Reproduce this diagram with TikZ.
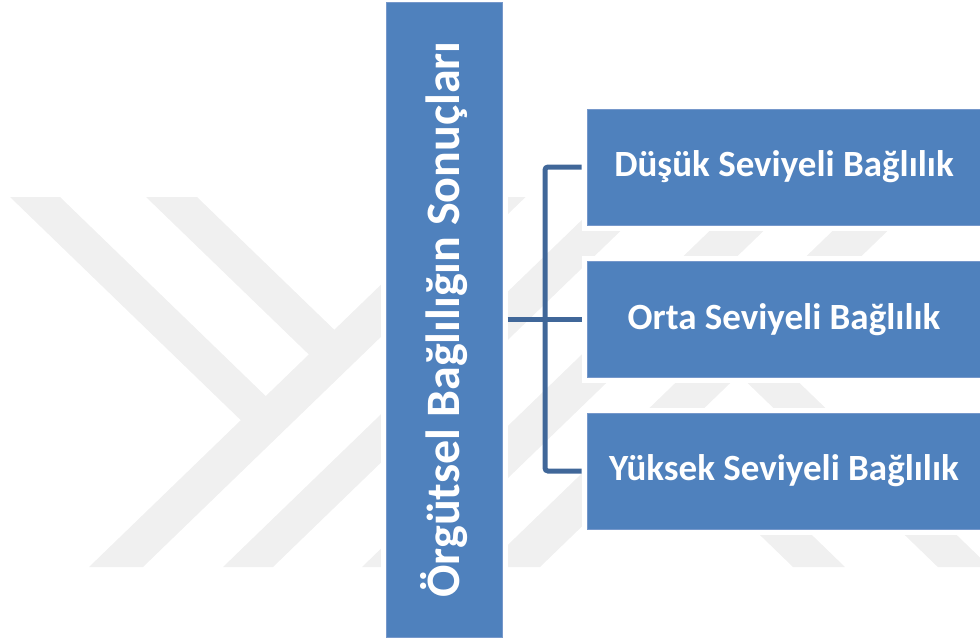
\documentclass[tikz,border=0pt]{standalone}
\usepackage{fontspec}
\setmainfont{Carlito}
\usetikzlibrary{backgrounds}
\definecolor{boxblue}{RGB}{79,129,189}
\definecolor{boxedge}{RGB}{118,152,203}
\definecolor{linkblue}{RGB}{64,103,153}
\definecolor{wmgray}{RGB}{240,240,240}
\begin{document}
\begin{tikzpicture}[x=1pt,y=-1pt,
  rootbox/.style={rectangle, fill=boxblue, draw=boxedge, line width=1pt,
    minimum width=116pt, minimum height=635pt, inner sep=0pt,
    text=white, font=\bfseries\fontsize{48}{54}\selectfont},
  levelbox/.style={rectangle, fill=boxblue, draw=boxedge, line width=1pt,
    minimum width=394pt, minimum height=116pt, inner sep=0pt,
    text=white, font=\bfseries\fontsize{37}{44}\selectfont},
  conn/.style={draw=linkblue, line width=5pt, rounded corners=3pt,
    shorten <=5pt, shorten >=5pt},
  halo/.style={draw=white, line width=10pt},
  wm/.style={fill=wmgray}]
\useasboundingbox (0,0) rectangle (980,641);

% boxes
\node[rootbox] (root) at (444,319.5)
  {\rotatebox{90}{Örgütsel Bağlılığın Sonuçları}};
\node[levelbox] (b1) at (784,167)   {Düşük Seviyeli Bağlılık};
\node[levelbox] (b2) at (784,319.5) {Orta Seviyeli Bağlılık};
\node[levelbox] (b3) at (784,471)   {Yüksek Seviyeli Bağlılık};

% bracket connector
\coordinate (spine) at (545,319.5);
\draw[conn] (root.east) -- (b2.west);
\draw[conn] (b1.west) -- (b1.west -| spine) -- (b3.west -| spine) -- (b3.west);

% faint logo stripes behind, with white margins round the boxes
\begin{pgfonlayer}{background}
  \fill[wm] (89,567) -- (143,567) -- (525.6,197) -- (471.6,197) -- cycle;
  \fill[wm] (223,567) -- (273,567) -- (655.6,197) -- (605.6,197) -- cycle;
  \fill[wm] (362,567) -- (416,567) -- (798.6,197) -- (744.6,197) -- cycle;
  \fill[wm] (485,567) -- (540,567) -- (922.6,197) -- (867.6,197) -- cycle;
  \fill[wm] (10,197) -- (60,197) -- (277,407) -- (253,432) -- cycle;
  \fill[wm] (146,197) -- (197,197) -- (344.9,340) -- (319.7,365) -- cycle;
  \fill[wm] (723.8,360) -- (775.8,360) -- (989.8,567) -- (937.8,567) -- cycle;
  \fill[wm] (651.4,430) -- (703.4,430) -- (845,567) -- (793,567) -- cycle;
  \foreach \b in {root,b1,b2,b3}
    \draw[halo] (\b.north west) rectangle (\b.south east);
\end{pgfonlayer}
\end{tikzpicture}
\end{document}
